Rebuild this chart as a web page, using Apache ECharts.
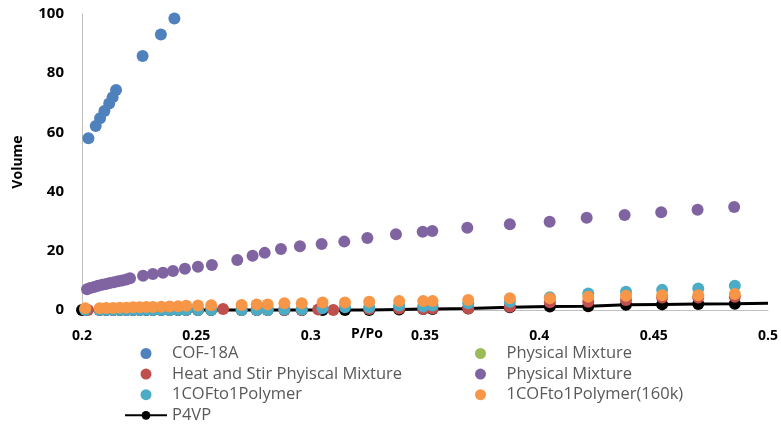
<!DOCTYPE html>
<html><head><meta charset="utf-8">
<script src="https://cdn.jsdelivr.net/npm/echarts@6/dist/echarts.min.js"></script>
<style>html,body{margin:0;padding:0;background:#fff}#c{width:781px;height:428px}</style>
</head><body><div id="c"></div>
<script>
// ---- data ----
const xTickLabels = ['0.2','0.25','0.3','0.35','0.4','0.45','0.5'];
const yTickLabels = ['0','20','40','60','80','100'];

const cofX = [0.2028,0.2060,0.2079,0.2098,0.2119,0.2134,0.2149,0.2265,0.2345,0.2404];
const cofY = [58.0,62.2,64.8,67.2,69.8,71.9,74.3,85.8,93.1,98.5];

const greenX = [];
const greenY = [];

const purpleX = [0.2022,0.2036,0.2053,0.2070,0.2088,0.2105,0.2122,0.2140,0.2158,0.2176,0.2194,0.2210,0.2267,0.2310,0.2354,0.2398,0.2450,0.2507,0.2568,
  0.2679,0.2746,0.2799,0.2870,0.2953,0.3048,0.3147,0.3248,0.3373,0.3490,0.3532,0.3685,0.3871,0.4045,0.4207,0.4373,0.4533,0.4692,0.4852];
const purpleY = [7.0,7.4,7.8,8.2,8.5,8.8,9.1,9.4,9.7,10.0,10.3,10.7,11.6,12.2,12.6,13.2,13.9,14.6,15.2,
  16.9,18.3,19.3,20.6,21.5,22.3,23.1,24.3,25.6,26.4,26.7,27.8,29.0,29.8,31.2,32.1,33.0,33.9,34.8];

const baseX = [0.2014,0.2077,0.2106,0.2136,0.2165,0.2194,0.2223,0.2252,0.2281,0.2310,0.2347,0.2383,0.2420,0.2456,0.2507,0.2565,
  0.2698,0.2764,0.2812,0.2885,0.2961,0.3052,0.3150,0.3256,0.3387,0.3492,0.3533,0.3689,0.3871,0.4046,0.4214,0.4379,0.4537,0.4695,0.4855];

const orangeY = [0.6,0.6,0.7,0.7,0.8,0.8,0.9,0.9,1.0,1.0,1.1,1.2,1.3,1.4,1.5,1.6,
  1.7,1.9,1.9,2.3,2.3,2.5,2.5,2.8,3.0,3.0,3.0,3.4,4.0,4.0,4.5,4.8,5.0,5.0,5.4];
const cyanY = [0.0,0.0,0.0,0.0,0.0,0.0,0.0,0.0,0.0,0.0,0.0,0.0,0.0,0.0,0.0,0.0,
  0.0,0.0,0.0,0.2,0.2,0.6,0.9,0.9,1.5,1.2,1.5,2.3,2.8,4.3,5.6,6.2,6.8,7.3,8.2];

const redX = [0.2026,0.2077,0.2136,0.2194,0.2252,0.2310,0.2383,0.2456,0.2507,0.2617,0.2698,0.2764,0.2812,0.2885,0.2961,0.3033,0.3099,
  0.3256,0.3387,0.3492,0.3533,0.3689,0.3871,0.4046,0.4214,0.4379,0.4537,0.4695,0.4855];
const redY = [0.0,0.0,0.0,0.0,0.0,0.0,0.0,0.0,0.0,0.3,0.0,0.0,0.0,0.0,0.0,0.2,0.0,
  0.3,0.5,0.3,0.5,0.6,1.1,2.6,2.8,3.4,4.2,4.2,4.5];

const p4vpX = [0.2000].concat(baseX).concat([0.5000]);
const p4vpY = [0.0,0.0,0.0,0.0,0.0,0.0,0.0,0.0,0.0,0.0,0.0,0.0,0.0,0.0,0.0,0.0,0.0,
  0.0,0.0,0.0,0.0,0.0,0.0,0.0,0.0,0.2,0.3,0.3,0.5,0.9,1.2,1.3,1.8,1.9,2.0,2.1,2.3];

// ---- chart ----
const pts = (xs, ys) => xs.map((x, i) => [x, ys[i]]);
const FONT = 'Open Sans';
const scatter = (name, color, xs, ys) => ({
  name, type: 'scatter', z: 3, data: pts(xs, ys), symbol: 'circle', symbolSize: 12, clip: false,
  itemStyle: { color, opacity: 1 }, emphasis: { disabled: true }
});
const legendText = { fontFamily: FONT, fontSize: 16.5, color: '#595959' };

const chart = echarts.init(document.getElementById('c'));
chart.setOption({
  animation: false,
  backgroundColor: '#fff',
  grid: { left: 82, right: 13, top: 14, bottom: 118, containLabel: false },
  xAxis: {
    type: 'value', min: 0.2, max: 0.5, interval: 0.05,
    axisLine: { show: true, lineStyle: { color: '#BFBFBF', width: 1 } },
    axisTick: { show: false }, splitLine: { show: false },
    axisLabel: { margin: 19, fontFamily: FONT, fontWeight: 'bold', fontSize: 14, color: '#000',
      formatter: v => xTickLabels[Math.round((v - 0.2) / 0.05)] }
  },
  yAxis: {
    type: 'value', min: 0, max: 100, interval: 20,
    name: 'Volume', nameLocation: 'middle', nameGap: 57,
    nameTextStyle: { fontFamily: FONT, fontWeight: 'bold', fontSize: 14, color: '#000' },
    axisLine: { show: true, lineStyle: { color: '#BFBFBF', width: 1 } },
    axisTick: { show: false }, splitLine: { show: false },
    axisLabel: { margin: 18, fontFamily: FONT, fontWeight: 'bold', fontSize: 15, color: '#000',
      formatter: v => yTickLabels[Math.round(v / 20)] }
  },
  graphic: [{ type: 'text', left: 351, top: 327,
    style: { text: 'P/Po', fontFamily: FONT, fontWeight: 'bold', fontSize: 14, fill: '#000' } }],
  legend: [
    { left: 124, top: 345, height: 120, orient: 'vertical', padding: 0, itemWidth: 42, itemHeight: 11, itemGap: 3.6,
      data: ['COF-18A', 'Heat and Stir Phyiscal Mixture', '1COFto1Polymer', 'P4VP'], textStyle: legendText },
    { left: 475, top: 345, height: 120, orient: 'vertical', padding: 0, itemWidth: 42, itemHeight: 11, itemGap: 3.6,
      data: ['Physical Mixture', 'Physical Mixture ', '1COFto1Polymer(160k)'], textStyle: legendText }
  ],
  series: [
    { name: 'P4VP', type: 'line', z: 1, data: pts(p4vpX, p4vpY), symbol: 'circle', clip: false,
      symbolSize: (v, p) => (p.dataIndex === p4vpX.length - 1 ? 0 : 12),
      lineStyle: { color: '#000', width: 3 }, itemStyle: { color: '#000' }, emphasis: { disabled: true } },
    scatter('COF-18A', '#4F81BD', cofX, cofY),
    scatter('Physical Mixture', '#9BBB59', greenX, greenY),
    scatter('Heat and Stir Phyiscal Mixture', '#C0504D', redX, redY),
    scatter('Physical Mixture ', '#8064A2', purpleX, purpleY),
    scatter('1COFto1Polymer', '#4BACC6', baseX, cyanY),
    scatter('1COFto1Polymer(160k)', '#F79646', baseX, orangeY)
  ]
});
</script></body></html>
